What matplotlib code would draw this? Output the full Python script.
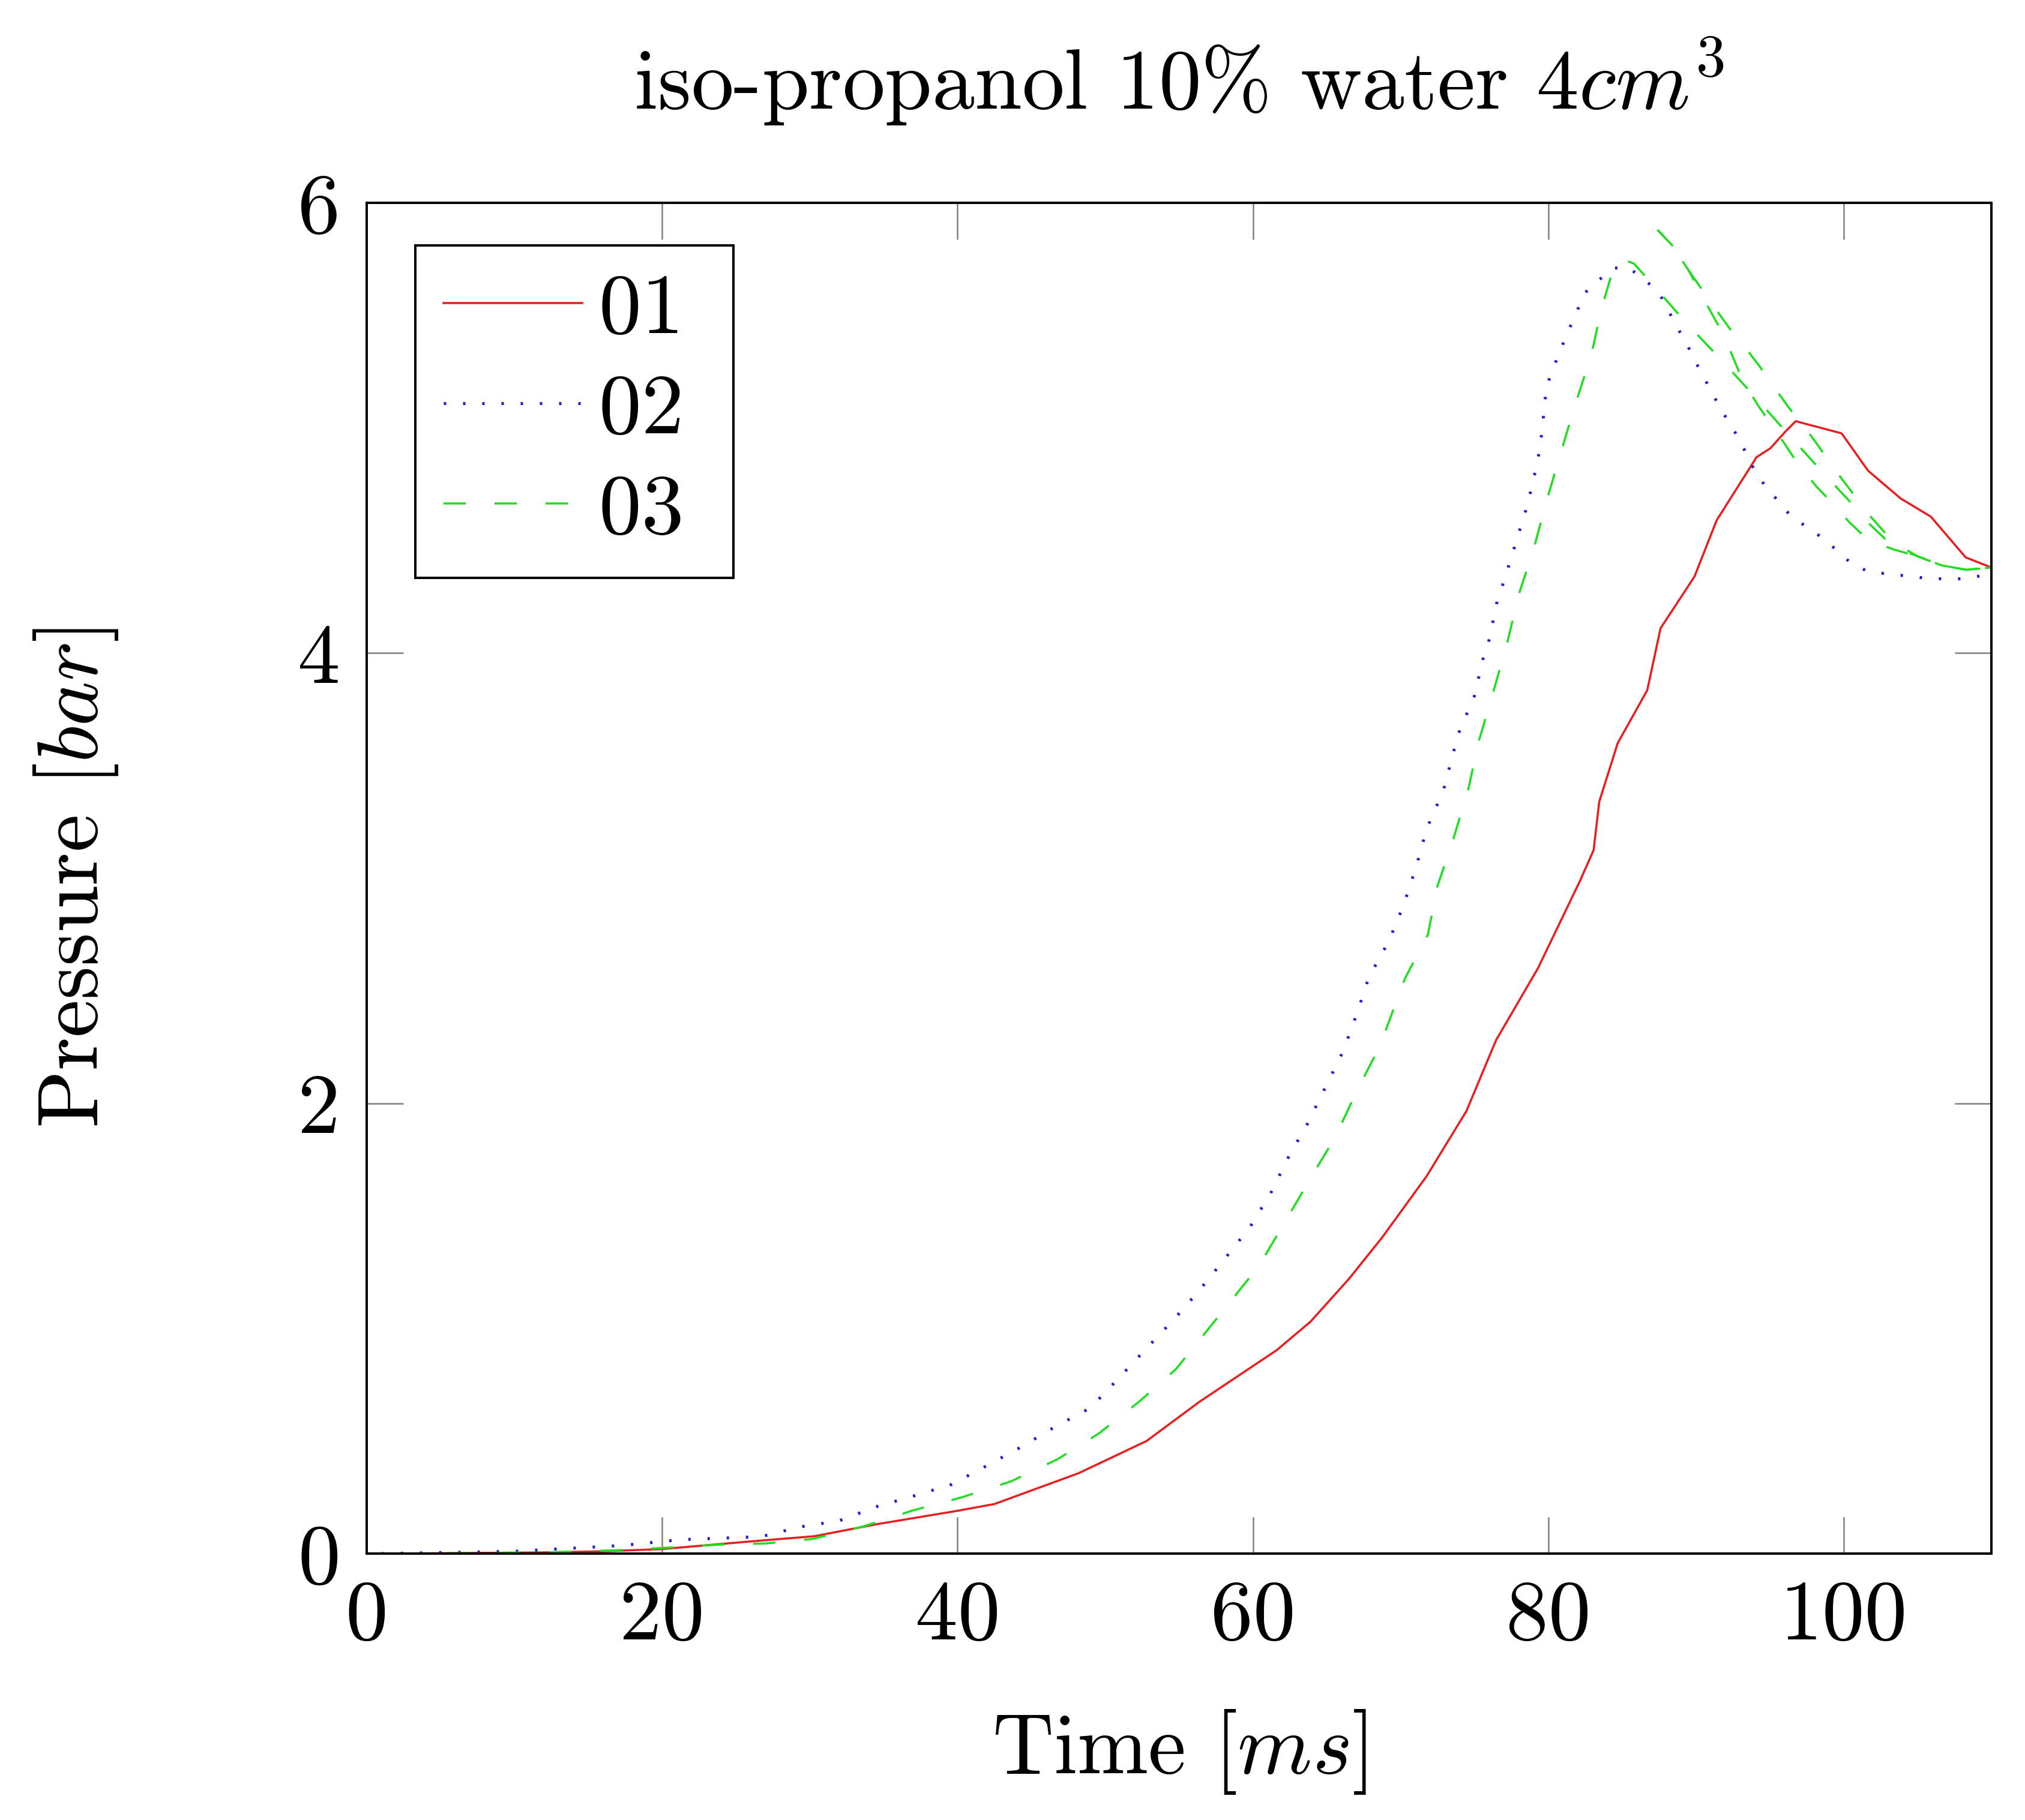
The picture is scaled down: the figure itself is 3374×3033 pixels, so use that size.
import matplotlib
matplotlib.use("Agg")
import matplotlib.pyplot as plt

# ---------------- data ----------------
red_t = [2, 11.7, 16, 20, 26, 30.3, 34.5, 40, 42.5, 48.2, 52.8, 56.4, 61.6, 63.9,
         66.5, 68.76, 71.76, 74.46, 76.46, 79.3, 82.16, 83.07, 83.45, 84.7, 86.7,
         87.6, 89.9, 91.4, 94.1, 95.04, 96.07, 96.75, 99.86, 101.65, 103.85, 105.9,
         108.26, 110]
red_p = [0.0, 0.005, 0.01, 0.02, 0.054, 0.077, 0.13, 0.19, 0.22, 0.357, 0.50, 0.675,
         0.903, 1.03, 1.22, 1.405, 1.676, 1.966, 2.28, 2.60, 2.99, 3.125, 3.34, 3.60,
         3.835, 4.11, 4.34, 4.59, 4.87, 4.91, 4.985, 5.03, 4.976, 4.81, 4.687, 4.606,
         4.425, 4.38]

blue_t = [1, 10, 17.3, 21.3, 26.7, 29.3, 32.0, 34.5, 37.0, 39.6, 42.0, 44.3, 46.6,
          49.0, 50.9, 52.7, 54.65, 56.45, 58.1, 59.8, 61.2, 62.4, 63.7, 64.9, 66.1,
          67.05, 67.85, 69.2, 70.2, 71.05, 71.77, 72.9, 73.9, 75.0, 75.6, 76.0, 76.55,
          77.0, 77.8, 78.6, 79.2, 79.46, 79.75, 79.86, 80.33, 80.85, 81.35, 81.9, 82.4,
          83.3, 84.4, 85.4, 86.5, 87.5, 88.7, 89.4, 90.0, 90.65, 91.3, 91.9, 92.65,
          93.3, 93.9, 94.6, 95.5, 96.4, 97.5, 98.6, 99.65, 100.65, 101.8, 103.2, 104.6,
          105.9, 108, 110]
blue_p = [0.0, 0.01, 0.036, 0.062, 0.075, 0.118, 0.146, 0.208, 0.255, 0.307, 0.391,
          0.473, 0.563, 0.647, 0.778, 0.905, 1.04, 1.175, 1.31, 1.45, 1.60, 1.76, 1.91,
          2.07, 2.23, 2.40, 2.56, 2.72, 2.88, 3.05, 3.22, 3.39, 3.64, 3.81, 3.98, 4.06,
          4.235, 4.32, 4.49, 4.66, 4.83, 4.92, 5.10, 5.18, 5.265, 5.35, 5.43, 5.51,
          5.595, 5.65, 5.71, 5.713, 5.66, 5.60, 5.45, 5.37, 5.29, 5.21, 5.13, 5.06,
          4.98, 4.90, 4.82, 4.75, 4.68, 4.61, 4.56, 4.51, 4.45, 4.39, 4.36, 4.35, 4.34,
          4.33, 4.33, 4.35]

green_t = [2, 12, 17, 20, 24, 27, 30.2, 33.6, 36.9, 40.3, 43.6, 46.8, 49.6, 52.3,
           54.8, 56.4, 58.3, 60.4, 62.2, 63.9, 65.6, 67.0, 68.6, 70.3, 71.85, 72.5,
           73.6, 74.6, 75.3, 76.2, 77.2, 78.0, 79.0, 79.9, 80.85, 81.8, 82.9, 83.6,
           84.5, 85.2, 85.8, 86.9, 89.15, 91.45, 93.7, 96.0, 98.2, 100.6, 101.8, 103.4,
           105.0, 106.6, 108.3, 110]
green_p = [0.0, 0.005, 0.015, 0.025, 0.04, 0.045, 0.065, 0.12, 0.19, 0.25, 0.32,
           0.42, 0.535, 0.675, 0.82, 0.95, 1.105, 1.277, 1.476, 1.667, 1.853, 2.05,
           2.255, 2.555, 2.75, 2.966, 3.18, 3.40, 3.61, 3.81, 4.04, 4.26, 4.46, 4.68,
           4.89, 5.10, 5.32, 5.53, 5.73, 5.745, 5.73, 5.65, 5.48, 5.32, 5.16, 4.99,
           4.83, 4.66, 4.57, 4.47, 4.43, 4.39, 4.37, 4.38]

# extra overlapping traces of series 03 (upper branches after the peak)
green_b1_t = [87.4, 88.4, 89.5, 91.2, 92.3, 93.3, 94.35, 95.3, 96.4, 97.3, 98.5,
              99.45, 100.5, 101.5, 103.4, 105.0, 106.6, 108.3, 110]
green_b1_p = [5.88, 5.81, 5.70, 5.54, 5.44, 5.36, 5.27, 5.18, 5.08, 5.01, 4.90,
              4.81, 4.72, 4.63, 4.49, 4.43, 4.39, 4.37, 4.38]
green_b2_t = [87.4, 88.4, 89.5, 91.05, 91.9, 93.1, 94.2, 96.0, 96.9, 98.15, 99.25,
              100.4, 101.7, 103.4, 105.0, 106.6, 108.3, 110]
green_b2_p = [5.88, 5.81, 5.70, 5.51, 5.41, 5.22, 5.10, 4.93, 4.84, 4.74, 4.665,
              4.58, 4.50, 4.46, 4.43, 4.39, 4.37, 4.38]

labels = ["01", "02", "03"]
x_ticks = [0, 20, 40, 60, 80, 100]
y_ticks = [0, 2, 4, 6]

title = r"iso-propanol 10% water $4cm^3$"
xlabel = r"Time [$ms$]"
ylabel = r"Pressure [$bar$]"

# ---------------- style ----------------
plt.rcParams["font.family"] = ["cmr10", "DejaVu Serif"]
plt.rcParams["mathtext.fontset"] = "cm"
plt.rcParams["axes.formatter.use_mathtext"] = True
plt.rcParams["axes.unicode_minus"] = False

DPI = 300
W, H = 3374, 3033
FS = 34.0

fig = plt.figure(figsize=(W / DPI, H / DPI), dpi=DPI)
ax = fig.add_axes([611 / W, (H - 2589) / H, 2707 / W, 2251 / H])

c_red = "#e62020"
c_blue = "#2020c8"
c_green = "#22dd22"

ax.plot(red_t, red_p, color=c_red, lw=0.85, ls="-", label=labels[0])
ax.plot(blue_t, blue_p, color=c_blue, lw=1.2, ls=(0, (0.8, 5.6)), label=labels[1])
ax.plot(green_t, green_p, color=c_green, lw=0.85, ls=(0, (10.5, 13.5)), label=labels[2])
ax.plot(green_b1_t, green_b1_p, color=c_green, lw=0.85, ls=(0, (10.5, 13.5)))
ax.plot(green_b2_t, green_b2_p, color=c_green, lw=0.85, ls=(5, (10.5, 13.5)))

ax.set_xlim(0, 110)
ax.set_ylim(0, 6)
ax.set_xticks(x_ticks)
ax.set_yticks(y_ticks)
ax.set_xticklabels([str(v) for v in x_ticks])
ax.set_yticklabels([str(v) for v in y_ticks])

for s in ax.spines.values():
    s.set_linewidth(0.96)
    s.set_color("black")

ax.tick_params(axis="both", which="major", direction="in", top=True, right=True,
               length=14.6, width=0.6, color="#808080", labelcolor="black",
               labelsize=FS, pad=10.6)

ax.set_xlabel(xlabel, fontsize=FS)
ax.set_ylabel(ylabel, fontsize=FS)
ax.xaxis.set_label_coords(0.5, -0.114)
ax.yaxis.set_label_coords(-0.1517, 0.5)

ax.text(0.5, (2589 - 182) / 2251, title, transform=ax.transAxes, ha="center",
        va="baseline", fontsize=FS)

handles, _ = ax.get_legend_handles_labels()
leg = ax.legend(handles, [lab + "\u2005" for lab in labels],
                loc="upper left", bbox_to_anchor=((692 - 611) / 2707, 1 - (409 - 338) / 2251),
                borderaxespad=0, fontsize=FS, frameon=True, fancybox=False,
                framealpha=1, edgecolor="black", handlelength=1.63,
                handletextpad=0.2, borderpad=0.33, labelspacing=0.28)
leg.get_frame().set_linewidth(0.96)

fig.savefig("out.png", dpi=DPI)
